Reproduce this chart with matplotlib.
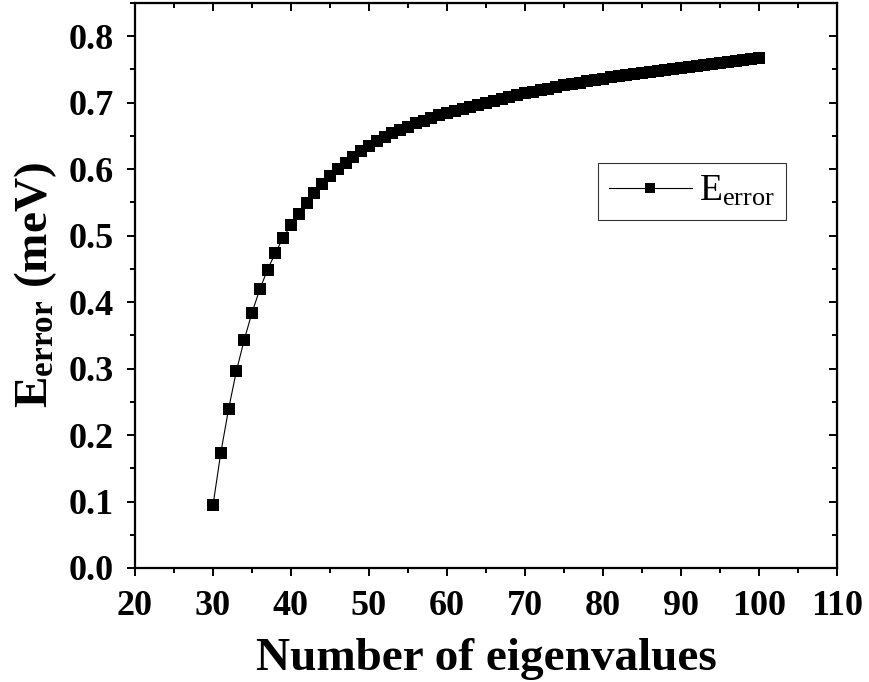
import matplotlib
matplotlib.use("Agg")
import matplotlib.pyplot as plt
from matplotlib.ticker import MultipleLocator, FormatStrFormatter

plt.rcParams['font.family'] = ['Liberation Serif', 'DejaVu Serif']
plt.rcParams['mathtext.fontset'] = 'custom'
plt.rcParams['mathtext.rm'] = 'Liberation Serif'
plt.rcParams['mathtext.bf'] = 'Liberation Serif:bold'
plt.rcParams['mathtext.it'] = 'Liberation Serif:italic'

n_eigen = list(range(30, 101))
e_error = [0.094, 0.173, 0.239, 0.296, 0.343, 0.384, 0.419, 0.449, 0.474, 0.497,
           0.516, 0.533, 0.549, 0.564, 0.577, 0.589, 0.600, 0.610, 0.619, 0.627,
           0.635, 0.642, 0.648, 0.654, 0.659, 0.664, 0.669, 0.673, 0.677, 0.681,
           0.685, 0.688, 0.691, 0.694, 0.697, 0.700, 0.703, 0.706, 0.708, 0.711,
           0.714, 0.716, 0.719, 0.721, 0.724, 0.726, 0.728, 0.730, 0.732, 0.734,
           0.736, 0.738, 0.740, 0.741, 0.743, 0.744, 0.746, 0.747, 0.749, 0.750,
           0.752, 0.753, 0.755, 0.756, 0.758, 0.759, 0.761, 0.762, 0.764, 0.766,
           0.768]
x_ticks = [20, 30, 40, 50, 60, 70, 80, 90, 100, 110]
y_ticks = [0.0, 0.1, 0.2, 0.3, 0.4, 0.5, 0.6, 0.7, 0.8]

fig = plt.figure(figsize=(8.69, 6.82), dpi=100)
ax = fig.add_axes([0.1553, 0.1672, 0.9632 - 0.1553, 0.9956 - 0.1672])

ax.plot(n_eigen, e_error, color='black', linewidth=0.8, marker='s',
        markersize=8.6, markeredgewidth=0, label=r'$\mathrm{E_{error}}$')

ax.set_xlim(20, 110)
ax.set_ylim(0, 0.85)
ax.set_xticks(x_ticks)
ax.set_yticks(y_ticks)
ax.xaxis.set_minor_locator(MultipleLocator(5))
ax.yaxis.set_minor_locator(MultipleLocator(0.05))
ax.yaxis.set_major_formatter(FormatStrFormatter('%.1f'))

for s in ax.spines.values():
    s.set_linewidth(1.6)

ax.tick_params(which='both', direction='out', width=1.4, labelsize=26, top=False, right=False)
ax.tick_params(which='major', length=6)
ax.tick_params(which='minor', length=3.5)
ax.tick_params(axis='x', which='major', pad=10)
ax.tick_params(axis='y', which='major', pad=9)
for lab in ax.get_xticklabels() + ax.get_yticklabels():
    lab.set_fontweight('bold')

# inward ticks on top and right
axt = ax.secondary_xaxis('top')
axt.set_xticks(x_ticks)
axt.xaxis.set_minor_locator(MultipleLocator(5))
axt.tick_params(which='both', direction='in', width=1.4, labeltop=False)
axt.tick_params(which='major', length=6)
axt.tick_params(which='minor', length=3.5)
axr = ax.secondary_yaxis('right')
axr.set_yticks(y_ticks)
axr.yaxis.set_minor_locator(MultipleLocator(0.05))
axr.tick_params(which='both', direction='in', width=1.4, labelright=False)
axr.tick_params(which='major', length=6)
axr.tick_params(which='minor', length=3.5)

ax.set_xlabel('Number of eigenvalues', fontsize=34, fontweight='bold', labelpad=11)
ax.set_ylabel(r'$\mathbf{E}_{\mathbf{error}}$ (meV)', fontsize=34, fontweight='bold', labelpad=7)

leg = ax.legend(loc='upper left', bbox_to_anchor=(0.6595, 0.717), fontsize=27,
                frameon=True, fancybox=False, edgecolor='black', handlelength=2.2,
                markerscale=0.85, borderpad=0.3, handletextpad=0.2, borderaxespad=0)
leg.get_frame().set_linewidth(0.8)

fig.savefig('out.png', dpi=100)
